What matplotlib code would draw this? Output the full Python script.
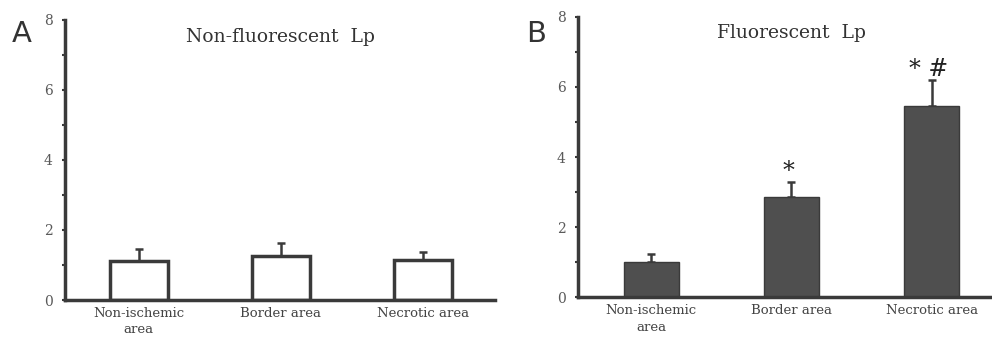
import numpy as np
import matplotlib.pyplot as plt
from matplotlib.ticker import MultipleLocator

categories = ["Non-ischemic\narea", "Border area", "Necrotic area"]
nonfluor_mean = [1.1, 1.25, 1.15]
nonfluor_err = [0.37, 0.38, 0.22]
fluor_mean = [1.0, 2.85, 5.45]
fluor_err = [0.22, 0.45, 0.75]
fluor_marks = ["", "*", "* #"]

ink = "#3a3a3a"
serif = ["DejaVu Serif"]

fig = plt.figure(figsize=(9.92, 3.38), dpi=100)
axA = fig.add_axes([0.0655, 0.1124, 0.4335, 0.8286])
axB = fig.add_axes([0.583, 0.121, 0.417, 0.829])

x = np.arange(len(categories))


def style(ax, xlim):
    ax.set_xlim(*xlim)
    ax.set_ylim(0, 8)
    for s in ["top", "right"]:
        ax.spines[s].set_visible(False)
    for s in ["left", "bottom"]:
        ax.spines[s].set_linewidth(2.5)
        ax.spines[s].set_color(ink)
    ax.yaxis.set_major_locator(MultipleLocator(2))
    ax.yaxis.set_minor_locator(MultipleLocator(1))
    ax.tick_params(axis="y", which="both", length=2, width=1.5, color=ink,
                   labelsize=10, labelcolor="#5a5a5a", pad=7)
    ax.tick_params(axis="x", length=0, labelsize=9.5, labelcolor="#444444", pad=5)
    ax.set_xticks(x)
    ax.set_xticklabels(categories, family=serif, linespacing=1.35)
    for t in ax.get_yticklabels():
        t.set_family(serif)


# panel A
axA.bar(x, nonfluor_mean, width=0.41, color="white", edgecolor=ink,
        linewidth=2.5, zorder=2)
axA.errorbar(x, nonfluor_mean, yerr=[np.zeros(3), nonfluor_err], fmt="none",
             ecolor=ink, elinewidth=1.8, capsize=3, capthick=1.8, zorder=1)
style(axA, (-0.52, 2.51))
axA.text(1.0, 7.5, "Non-fluorescent  Lp", ha="center", va="center",
         fontsize=13.5, family=serif, color="#333333")
fig.text(0.012, 0.875, "A", fontsize=21, color="#333333")

# panel B
axB.bar(x, fluor_mean, width=0.39, color="#4f4f4f", edgecolor="#3a3a3a",
        linewidth=1.0, zorder=2)
axB.errorbar(x, fluor_mean, yerr=[np.zeros(3), fluor_err], fmt="none",
             ecolor=ink, elinewidth=1.8, capsize=3, capthick=1.8, zorder=1)
style(axB, (-0.52, 2.43))
axB.text(1.0, 7.55, "Fluorescent  Lp", ha="center", va="center",
         fontsize=13.5, family=serif, color="#333333")
for xi, m, e, s in zip(x, fluor_mean, fluor_err, fluor_marks):
    if s:
        axB.text(xi - 0.02, m + e + 0.3, s, ha="center",
                 va="center", fontsize=17, family=serif, color="#222222")
fig.text(0.53, 0.875, "B", fontsize=21, color="#333333")

fig.savefig("out.png", dpi=100)
